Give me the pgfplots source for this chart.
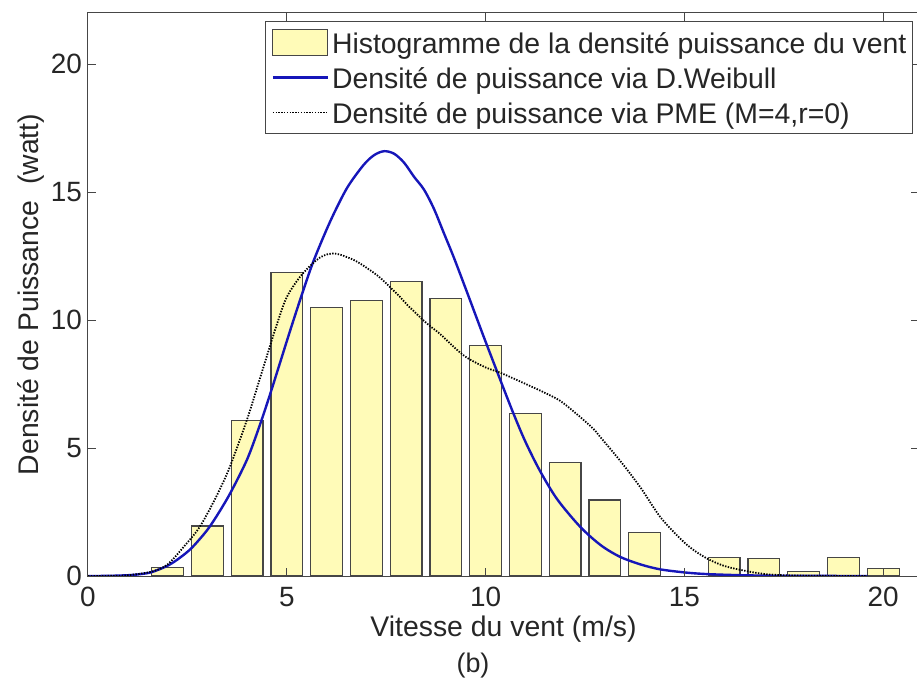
\documentclass[border=0pt]{standalone}
\usepackage{fontspec}
\setmainfont{Liberation Sans}
\usepackage{pgfplots}
\pgfplotsset{compat=1.18}
\definecolor{barfill}{RGB}{255,251,184}
\definecolor{baredge}{RGB}{70,70,70}
\definecolor{wblue}{RGB}{22,22,185}
\definecolor{axgray}{RGB}{70,70,70}
\pgfplotsset{
  mybarlegend/.style={legend image code/.code={\draw[##1] (0bp,-13bp) rectangle (55bp,13bp);}},
  mylinelegend/.style={legend image code/.code={\draw[##1] (0bp,0bp) -- (55bp,0bp);}},
}
\begin{document}
\begin{tikzpicture}
\begin{axis}[
  name=ax,
  scale only axis,
  width=831bp, height=563bp,
  xmin=0, xmax=20.9, ymin=0, ymax=22,
  xtick={0,5,10,15,20}, ytick={0,5,10,15,20},
  tick align=inside,
  major tick length=8bp,
  axis on top,
  axis line style={draw=axgray, line width=1bp},
  every tick/.style={draw=axgray, line width=1bp},
  /pgf/number format/assume math mode=true,
  tick label style={font=\fontsize{28}{34}\selectfont, text=black!85},
  xticklabel style={inner sep=0pt, anchor=north, yshift=-11bp},
  yticklabel style={inner sep=0pt, anchor=east, xshift=-6bp},
  label style={font=\fontsize{28.5}{34}\selectfont, text=black!85},
  xlabel={Vitesse du vent (m/s)},
  xlabel style={at={(axis description cs:0.5,-0.1066)}, anchor=base, inner sep=0pt},
  ylabel={Densité de Puissance\ \ (watt)},
  ylabel style={at={(axis description cs:-0.059,0.5)}, anchor=base, inner sep=0pt},
  legend style={
    at={(axis description cs:0.9928,0.9858)}, anchor=north east,
    draw=axgray, line width=1bp, fill=white,
    inner xsep=6bp, inner ysep=3.5bp,
    column sep=3bp, row sep=0pt,
    font=\fontsize{28.5}{34}\selectfont,
    nodes={inner sep=0pt, text height=28.5bp, text depth=6.5bp, text=black!85},
  },
  legend cell align=left,
]
\addplot[ybar, bar width=0.8, bar shift=0pt, fill=barfill, draw=baredge, line width=1.2bp, mybarlegend]
  coordinates {
  (2,0.33) (3,1.95) (4,6.07) (5,11.85) (6,10.48) (7,10.77) (8,11.5) (9,10.84)
  (10,9.0) (11,6.35) (12,4.44) (13,2.97) (14,1.70) (16,0.72) (17,0.68)
  (18,0.18) (19,0.72) (20,0.28)
  };
\addlegendentry{Histogramme de la densité puissance du vent}
\addplot[wblue, line width=2.4bp, smooth, tension=0.5, mylinelegend]
  coordinates {
  (0,0) (0.5,0.005) (1.0,0.03) (1.3,0.07) (1.6,0.15) (2.0,0.4) (2.3,0.7)
  (2.61,1.1) (3.0,1.8) (3.3,2.5) (3.6,3.3) (4.0,4.55) (4.3,5.8) (4.6,7.2)
  (5.08,9.57) (5.38,11.0) (5.67,12.3) (6.09,13.85) (6.51,15.15) (6.93,16.06)
  (7.2,16.45) (7.45,16.6) (7.7,16.5) (7.95,16.15) (8.2,15.6) (8.45,15.1)
  (8.7,14.35) (8.95,13.4) (9.2,12.45) (9.53,11.1) (9.94,9.4) (10.36,7.7)
  (10.7,6.35) (11.0,5.25) (11.37,4.1) (11.8,3.0) (12.38,1.92) (12.9,1.2)
  (13.38,0.75) (13.9,0.45) (14.39,0.26) (15.0,0.14) (15.5,0.08) (16.2,0.04)
  (17,0.015) (18,0.005) (19.6,0)
  };
\addlegendentry{Densité de puissance via D.Weibull}
\addplot[black, line width=1.8bp, dash pattern=on 1.4bp off 1.4bp, smooth, tension=0.5, mylinelegend]
  coordinates {
  (0,0) (0.5,0.005) (1.0,0.03) (1.6,0.17) (2.0,0.45) (2.44,1.2) (2.78,1.85)
  (3.11,2.75) (3.53,4.12) (3.99,6.07) (4.3,7.6) (4.58,9.0) (4.75,9.83)
  (5.0,10.9) (5.38,11.78) (5.84,12.45) (6.21,12.6) (6.67,12.36) (7.0,12.05)
  (7.35,11.65) (7.85,10.9) (8.02,10.61) (8.5,9.9) (8.86,9.45) (9.2,8.95)
  (9.53,8.53) (10.0,8.15) (10.36,7.95) (10.8,7.65) (11.2,7.37) (11.5,7.15)
  (11.87,6.85) (12.29,6.33) (12.71,5.75) (12.89,5.42) (13.38,4.51)
  (13.89,3.47) (14.39,2.31) (14.89,1.47) (15.2,1.05) (15.56,0.69) (15.9,0.45)
  (16.23,0.30) (16.9,0.1) (17.5,0.03) (18.5,0.005) (19.6,0)
  };
\addlegendentry{Densité de puissance via PME (M=4,r=0)}
\end{axis}
\node[anchor=base, inner sep=0pt, font=\fontsize{27}{32}\selectfont, text=black!85]
  at ([xshift=385bp,yshift=-96bp]ax.south west) {(b)};
\pgfresetboundingbox
\path[use as bounding box] ([xshift=-88bp,yshift=-105bp]ax.south west)
  rectangle ([xshift=-2bp,yshift=13bp]ax.north east);
\end{tikzpicture}
\end{document}
